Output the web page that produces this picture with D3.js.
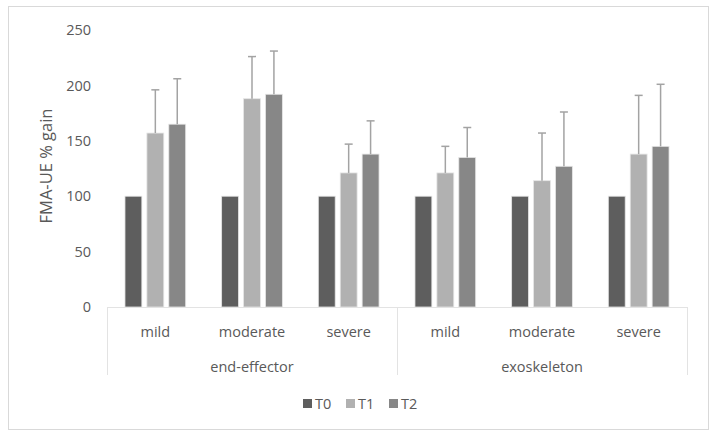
<!DOCTYPE html>
<html><head><meta charset="utf-8">
<script src="https://cdn.jsdelivr.net/npm/d3@7"></script>
<style>body{margin:0;background:#fff}svg{display:block}text{font-family:"Open Sans","Liberation Sans",sans-serif;fill:#595959}</style>
</head><body><svg id="c" width="717" height="440"></svg>
<script>
const groups = ["end-effector","exoskeleton"];
const levels = ["mild","moderate","severe"];
const seriesNames = ["T0","T1","T2"];
const colors = ["#5e5e5e","#b1b1b1","#878787"];
const T0 = [100,100,100,100,100,100];
const T1 = [157,188,121,121,114,138];
const T2 = [165,192,138,135,127,145];
const T1err = [39,38,26,24,43,53];
const T2err = [41,39,30,27,49,56];
const yTicks = [0,50,100,150,200,250];

const svg = d3.select("#c");
svg.append("rect").attr("x",8.5).attr("y",6.5).attr("width",700).attr("height",423).attr("fill","#fff").attr("stroke","#d9d9d9");

const L=107,R=687,T0y=30,B=307;
const cats = [];
groups.forEach(g=>levels.forEach(l=>cats.push(g+"|"+l)));
const x = d3.scaleBand().domain(cats).range([L,R]).paddingInner(0).paddingOuter(0);
const xs = d3.scaleBand().domain(seriesNames).range([0,x.bandwidth()]).paddingInner(0.23).paddingOuter(0.82);
const y = d3.scaleLinear().domain([0,250]).range([B,T0y]);
const vals = [T0,T1,T2];
const errs = [null,T1err,T2err];

// y ticks
const ya = svg.append("g").attr("transform",`translate(${L-16},0)`).call(d3.axisLeft(y).tickValues(yTicks).tickSize(0).tickPadding(0));
ya.select(".domain").remove();
ya.selectAll("text").attr("font-size",14.5).style("fill","#595959").attr("font-family","'Open Sans','Liberation Sans',sans-serif");

// bars
seriesNames.forEach((s,si)=>{
  svg.append("g").selectAll("rect").data(cats).join("rect")
    .attr("x",c=>x(c)+xs(s)).attr("width",xs.bandwidth())
    .attr("y",(c,i)=>y(vals[si][i])).attr("height",(c,i)=>y(0)-y(vals[si][i]))
    .attr("fill",colors[si]).attr("stroke","#e6e6e6").attr("stroke-width",0.8);
});
// error bars
[1,2].forEach(si=>{
  const g = svg.append("g").attr("stroke","#a3a3a3").attr("stroke-width",1.5);
  cats.forEach((c,i)=>{
    const cx = x(c)+xs(seriesNames[si])+xs.bandwidth()/2;
    const top = vals[si][i]+errs[si][i];
    g.append("line").attr("x1",cx).attr("x2",cx).attr("y1",y(vals[si][i])).attr("y2",y(top));
    g.append("line").attr("x1",cx-4).attr("x2",cx+4).attr("y1",y(top)).attr("y2",y(top));
  });
});

// x axis lines
const axg = svg.append("g").attr("stroke","#e3e3e3").attr("stroke-width",1);
axg.append("line").attr("x1",L).attr("x2",R).attr("y1",B+0.5).attr("y2",B+0.5);
[L, x(cats[3]), R].forEach(xx=>axg.append("line").attr("x1",xx+0.5).attr("x2",xx+0.5).attr("y1",B).attr("y2",375));

// category labels
svg.append("g").selectAll("text").data(cats).join("text")
  .attr("x",c=>x(c)+x.bandwidth()/2).attr("y",337).attr("text-anchor","middle").attr("font-size",14.5)
  .text(c=>c.split("|")[1]);
svg.append("g").selectAll("text").data(groups).join("text")
  .attr("x",(g,i)=>(x(cats[i*3])+x(cats[i*3+2])+x.bandwidth())/2).attr("y",372).attr("text-anchor","middle").attr("font-size",14.5)
  .text(d=>d);

// y title
svg.append("text").attr("transform","translate(52,166) rotate(-90)").attr("text-anchor","middle").attr("font-size",16.5).text("FMA-UE % gain");

// legend
const lg = svg.append("g");
seriesNames.forEach((s,i)=>{
  const lx = 303 + i*43;
  lg.append("rect").attr("x",lx).attr("y",399).attr("width",9).attr("height",9).attr("fill",colors[i]);
  lg.append("text").attr("x",lx+12).attr("y",409).attr("font-size",14.5).text(s);
});
</script></body></html>
